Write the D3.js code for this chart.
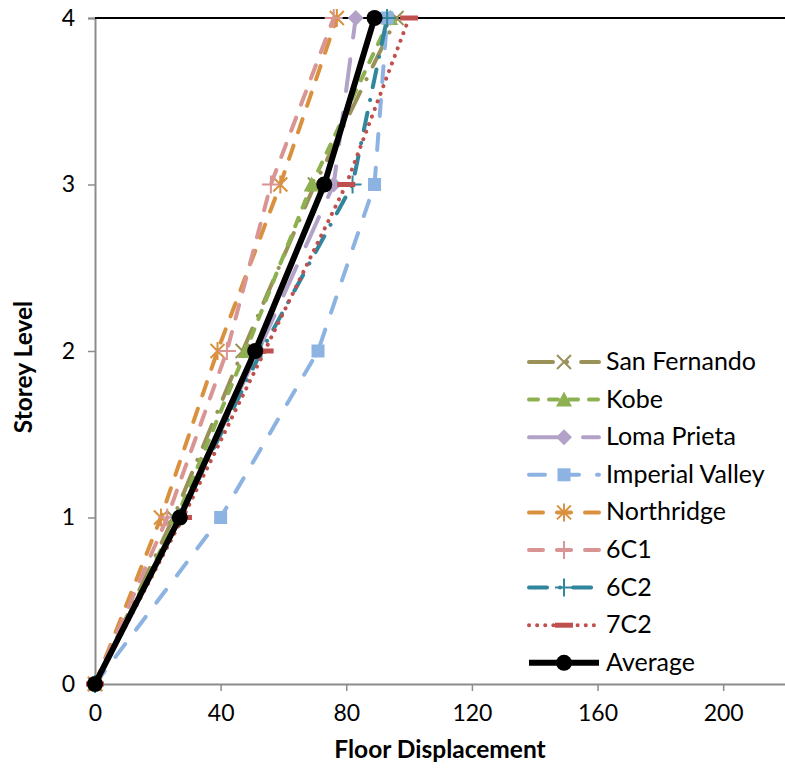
<!DOCTYPE html>
<html>
<head>
<meta charset="utf-8">
<script src="https://cdn.jsdelivr.net/npm/d3@7"></script>
<style>
body{margin:0;background:#fff;}
text{font-family:Lato,"Open Sans",sans-serif;}
</style>
</head>
<body>
<script>
var levels = [0,1,2,3,4];
var seriesNames = ["San Fernando","Kobe","Loma Prieta","Imperial Valley","Northridge","6C1","6C2","7C2","Average"];
var sanFernando = [0,25,47,70,96];
var kobe = [0,26,48,69,94];
var lomaPrieta = [0,27,52,76,83];
var imperialValley = [0,40,71,89,93];
var northridge = [0,21,39,59,77];
var s6C1 = [0,23,42,56,76];
var s6C2 = [0,27,53,82,93];
var s7C2 = [0,28,54,80,100];
var average = [0,27,51,73,89];
var xTicks = [0,40,80,120,160,200];
var yTicks = [0,1,2,3,4];

var width = 785;
var height = 772;
var padding = {top:18,right:-1,bottom:88,left:95};

var svg = d3.select("body")
.append("svg")
.attr("width",width)
.attr("height",height);

var xScale = d3.scaleLinear()
.domain([0,220])
.range([padding.left,width - padding.right]);

var yScale = d3.scaleLinear()
.domain([0,4])
.range([height - padding.bottom,padding.top]);

// style per series: color, dash, marker
var styles = [
	{color:"#9a9159",dash:"24,14,0.1,14",marker:"x"},
	{color:"#8db150",dash:"9,11",marker:"tri"},
	{color:"#b3a2c7",dash:"32,22",marker:"diamond"},
	{color:"#8db3e2",dash:"16,18",marker:"square"},
	{color:"#d9913f",dash:"14,14",marker:"star"},
	{color:"#d99594",dash:"14,14",marker:"plus"},
	{color:"#31859c",dash:"18,13,0.1,13",marker:"plus"},
	{color:"#c0504d",dash:"0.1,8",marker:"dash"},
	{color:"#000000",dash:null,marker:"circle"}
];
var allData = [sanFernando,kobe,lomaPrieta,imperialValley,northridge,s6C1,s6C2,s7C2,average];

var series = allData.map(function(vals,i){
	return {
		name:seriesNames[i],
		style:styles[i],
		points:vals.map(function(v,j){ return {x:v,y:levels[j]}; })
	};
});

// axes
var xAxis = d3.axisBottom(xScale)
.tickValues(xTicks)
.tickFormat(d3.format("d"))
.tickSize(7)
.tickPadding(14);

var yAxis = d3.axisLeft(yScale)
.tickValues(yTicks)
.tickFormat(d3.format("d"))
.tickSize(7)
.tickPadding(13);

var gx = svg.append("g")
.attr("transform","translate(0," + yScale(0) + ")")
.call(xAxis);

var gy = svg.append("g")
.attr("transform","translate(" + xScale(0) + ",0)")
.call(yAxis);

[gx,gy].forEach(function(g){
	g.select(".domain").attr("stroke","#8c8c8c").attr("stroke-width",2);
	g.selectAll(".tick line").attr("stroke","#8c8c8c").attr("stroke-width",1.5);
	g.selectAll(".tick text").attr("fill","#000").attr("font-size","23px");
});

// top border line
svg.append("line")
.attr("x1",xScale(0))
.attr("x2",width)
.attr("y1",yScale(4))
.attr("y2",yScale(4))
.attr("stroke","#000")
.attr("stroke-width",2);

svg.append("text")
.attr("x",(xScale(0) + width) / 2)
.attr("y",758)
.attr("text-anchor","middle")
.attr("font-size","24.5px")
.attr("font-weight","bold")
.text("Floor Displacement");

svg.append("text")
.attr("transform","translate(32," + ((yScale(0) + yScale(4)) / 2 + 16) + ") rotate(-90)")
.attr("text-anchor","middle")
.attr("font-size","24.5px")
.attr("font-weight","bold")
.text("Storey Level");

function drawMarker(g,type,color,cx,cy){
	var s = 7;
	if(type == "circle"){
		g.append("circle").attr("cx",cx).attr("cy",cy).attr("r",8).attr("fill",color);
	} else if(type == "x"){
		g.append("path").attr("d","M" + (cx-s) + "," + (cy-s) + "L" + (cx+s) + "," + (cy+s) + "M" + (cx-s) + "," + (cy+s) + "L" + (cx+s) + "," + (cy-s))
		.attr("stroke",color).attr("stroke-width",2);
	} else if(type == "tri"){
		g.append("path").attr("d","M" + cx + "," + (cy-8) + "L" + (cx+8) + "," + (cy+7) + "L" + (cx-8) + "," + (cy+7) + "Z").attr("fill",color);
	} else if(type == "diamond"){
		g.append("path").attr("d","M" + cx + "," + (cy-8) + "L" + (cx+8) + "," + cy + "L" + cx + "," + (cy+8) + "L" + (cx-8) + "," + cy + "Z").attr("fill",color);
	} else if(type == "square"){
		g.append("rect").attr("x",cx-6.5).attr("y",cy-6.5).attr("width",13).attr("height",13).attr("fill",color);
	} else if(type == "star"){
		g.append("path").attr("d","M" + (cx-s) + "," + (cy-s) + "L" + (cx+s) + "," + (cy+s) + "M" + (cx-s) + "," + (cy+s) + "L" + (cx+s) + "," + (cy-s) + "M" + cx + "," + (cy-9) + "L" + cx + "," + (cy+9))
		.attr("stroke",color).attr("stroke-width",2);
	} else if(type == "plus"){
		g.append("path").attr("d","M" + (cx-9) + "," + cy + "L" + (cx+9) + "," + cy + "M" + cx + "," + (cy-9) + "L" + cx + "," + (cy+9))
		.attr("stroke",color).attr("stroke-width",2);
	} else if(type == "dash"){
		g.append("rect").attr("x",cx-9).attr("y",cy-2.5).attr("width",18).attr("height",5).attr("fill",color);
	}
}

var line = d3.line()
.x(function(d){ return xScale(d.x); })
.y(function(d){ return yScale(d.y); });

var plot = svg.append("g");

series.forEach(function(s){
	var g = plot.append("g");
	g.append("path")
	.attr("d",line(s.points))
	.attr("fill","none")
	.attr("stroke",s.style.color)
	.attr("stroke-width",s.style.marker == "circle" ? 6 : 4)
	.attr("stroke-linecap",s.style.dash ? "round" : "butt")
	.attr("stroke-dasharray",s.style.dash);
	s.points.forEach(function(p){
		drawMarker(g,s.style.marker,s.style.color,xScale(p.x),yScale(p.y));
	});
});

// legend
var legend = svg.append("g");
var legendX = 529;
var legendY = 362;
var legendStep = 37.6;
series.forEach(function(s,i){
	var y = legendY + i * legendStep;
	var g = legend.append("g");
	g.append("line")
	.attr("x1",legendX)
	.attr("x2",legendX + 70)
	.attr("y1",y)
	.attr("y2",y)
	.attr("stroke",s.style.color)
	.attr("stroke-width",s.style.marker == "circle" ? 6 : 4)
	.attr("stroke-linecap",s.style.dash ? "round" : "butt")
	.attr("stroke-dasharray",s.style.dash);
	drawMarker(g,s.style.marker,s.style.color,legendX + 35,y);
	g.append("text")
	.attr("x",606)
	.attr("y",y + 8)
	.attr("font-size","25px")
	.text(s.name);
});
</script>
</body>
</html>
